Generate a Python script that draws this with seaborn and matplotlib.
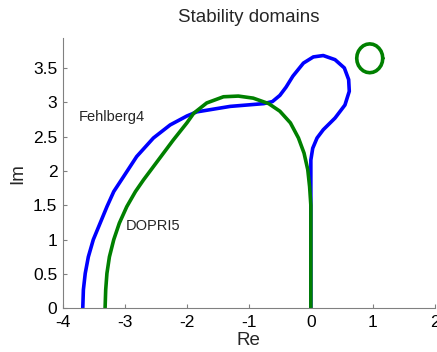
import matplotlib
matplotlib.use("Agg")
import matplotlib.pyplot as plt
import seaborn as sns
import pandas as pd

# Fehlberg4 stability boundary
fehlberg_re = [-3.68, -3.67, -3.64, -3.59, -3.51, -3.40, -3.29, -3.18, -3.02, -2.81,
               -2.54, -2.27, -2.00, -1.84, -1.57, -1.30, -1.03, -0.76, -0.62, -0.50,
               -0.40, -0.29, -0.12, 0.04, 0.20, 0.39, 0.54, 0.61, 0.62, 0.55,
               0.39, 0.20, 0.10, 0.03, 0.00, 0.00]
fehlberg_im = [0.00, 0.27, 0.51, 0.75, 1.00, 1.24, 1.48, 1.70, 1.92, 2.21,
               2.48, 2.67, 2.80, 2.86, 2.90, 2.94, 2.96, 2.98, 3.01, 3.10,
               3.22, 3.38, 3.57, 3.66, 3.68, 3.62, 3.50, 3.33, 3.16, 2.96,
               2.77, 2.60, 2.48, 2.33, 2.16, 0.00]

# DOPRI5 stability boundary
dopri_re = [-3.32, -3.31, -3.29, -3.25, -3.18, -3.09, -2.97, -2.83, -2.70, -2.46,
            -2.22, -2.00, -1.89, -1.68, -1.41, -1.17, -0.93, -0.68, -0.50, -0.33,
            -0.20, -0.11, -0.05, -0.02, 0.00, 0.00]
dopri_im = [0.00, 0.27, 0.51, 0.75, 1.00, 1.24, 1.48, 1.70, 1.87, 2.16,
            2.45, 2.70, 2.84, 2.99, 3.08, 3.09, 3.06, 2.98, 2.87, 2.70,
            2.48, 2.26, 2.02, 1.77, 1.50, 0.00]

# DOPRI5 isolated island
island_re = [1.160, 1.153, 1.132, 1.098, 1.055, 1.004, 0.950, 0.896, 0.845, 0.802,
             0.768, 0.747, 0.740, 0.747, 0.768, 0.802, 0.845, 0.896, 0.950, 1.004,
             1.055, 1.098, 1.132, 1.153, 1.160]
island_im = [3.640, 3.694, 3.745, 3.788, 3.822, 3.843, 3.850, 3.843, 3.822, 3.788,
             3.745, 3.694, 3.640, 3.586, 3.535, 3.492, 3.458, 3.437, 3.430, 3.437,
             3.458, 3.492, 3.535, 3.586, 3.640]

x_ticks = [-4, -3, -2, -1, 0, 1, 2]
y_ticks = [0, 0.5, 1, 1.5, 2, 2.5, 3, 3.5]
y_tick_labels = ["0", "0.5", "1", "1.5", "2", "2.5", "3", "3.5"]

sns.set_style("ticks")
plt.rcParams['font.family'] = ['Liberation Sans', 'DejaVu Sans']

fig = plt.figure(figsize=(4.37, 3.52), dpi=100)
ax = fig.add_axes([0.144, 0.124, 0.851, 0.767])

lw = 2.6
sns.lineplot(x=fehlberg_re, y=fehlberg_im, sort=False, estimator=None,
             color=(0, 0, 1), lw=lw, ax=ax)
sns.lineplot(x=dopri_re, y=dopri_im, sort=False, estimator=None,
             color=(0, 0.5, 0), lw=lw, ax=ax)
sns.lineplot(x=island_re, y=island_im, sort=False, estimator=None,
             color=(0, 0.5, 0), lw=lw, ax=ax)

ax.set_xlim(-4, 2)
ax.set_ylim(0, 3.93)
ax.set_xticks(x_ticks)
ax.set_xticklabels([str(t) for t in x_ticks])
ax.set_yticks(y_ticks)
ax.set_yticklabels(y_tick_labels)

for s in ["top", "right"]:
    ax.spines[s].set_visible(False)
for s in ["left", "bottom"]:
    ax.spines[s].set_color("#808080")
    ax.spines[s].set_linewidth(0.8)
ax.tick_params(direction="in", length=3, width=0.8, color="#808080",
               labelsize=12.5, labelcolor="black")
ax.tick_params(axis="x", pad=5)
ax.tick_params(axis="y", pad=4)

ax.set_xlabel("Re", fontsize=13.5, labelpad=1)
ax.set_ylabel("Im", fontsize=13.5, labelpad=5)
ax.set_title("Stability domains", fontsize=13.5, pad=12)

ax.text(-3.74, 2.79, "Fehlberg4", fontsize=10.5, ha="left", va="center")
ax.text(-2.98, 1.20, "DOPRI5", fontsize=10.5, ha="left", va="center")

fig.savefig("out.png", dpi=100)
